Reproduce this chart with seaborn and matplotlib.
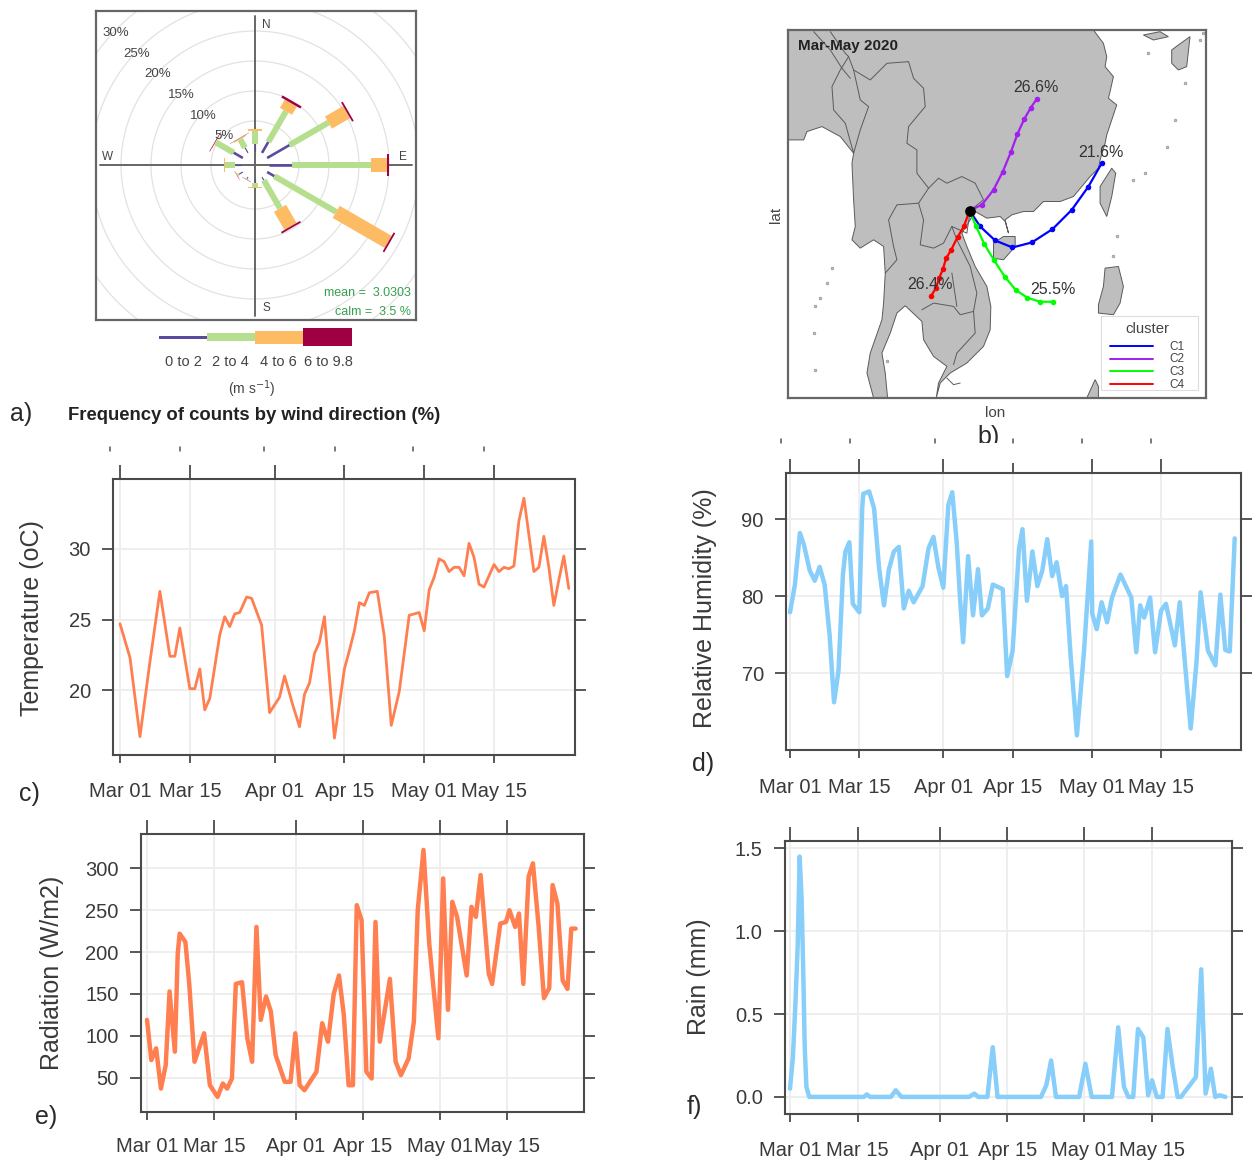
import numpy as np
import pandas as pd
import matplotlib
matplotlib.use("Agg")
import matplotlib.pyplot as plt
from matplotlib.patches import Rectangle, Polygon
import seaborn as sns

# ---------- time series ----------
temp_day = [0,2,4,6,8,10,11,12,14,15,16,17,18,20,21,22,23,24,25.4,26.4,28.4,30,32,33,34.6,36,37,38,39,40,41,43,44,45,46,47,48,49,50,51.6,53,54.4,56,58,60,61,62,63,64,65,66,67,68,69,70,71,72,73,75,76,77,78,79,80,81,83,84,85,86,87,88,89,90]
temp_val = [24.7,22.3,16.7,22,27,22.4,22.4,24.4,20.1,20.1,21.5,18.6,19.4,23.9,25.2,24.5,25.4,25.5,26.6,26.5,24.6,18.4,19.5,21,19,17.4,19.7,20.5,22.6,23.4,25.2,16.6,19,21.5,22.8,24.2,26.2,26,26.9,27,23.8,17.5,19.9,25.3,25.5,24.2,27.1,28,29.3,29.1,28.4,28.7,28.7,28.1,30.4,29.4,27.5,27.3,28.9,28.4,28.7,28.6,28.8,32,33.6,28.4,28.7,30.9,28.7,26,27.8,29.5,27.2]

rh_day = [0,1,2,2.8,4,5,6,7,8,8.9,9.8,10.7,11.2,12,12.7,14,14.6,14.8,16,17,18,19,20,21,22,23,24,25,26.8,28,29,30,31,32,32.8,33.7,34.4,35,36,37,38,38.8,40,41,43,43.9,45,46.3,47,47.9,49,50,51,52,53,53.9,55,55.8,56.7,58,59.4,60.9,61.1,62,63,64.1,65.1,66.8,69,70,70.8,71.6,72.8,73.8,75,76,77.8,78.8,79.8,81,82.2,83,84.5,86,87,88,88.9,89.9]
rh_val = [77.9,81.5,88.2,86.7,83.3,82,83.8,81.5,75,66.2,70.3,82.8,85.8,87,79,77.9,91.4,93.3,93.6,91.4,83.7,78.8,83.5,85.8,86.4,78.4,80.7,79.2,81.3,86.2,87.7,83.7,81.1,91.8,93.5,87,79.4,74,85.2,77.5,83.5,77.5,78.4,81.5,80.9,69.6,72.9,86.2,88.7,79.4,85.8,81.3,83.3,87.4,82.6,84.4,80,81.3,72.5,61.9,72.5,87.1,77.7,75.7,79.2,76.6,79.8,82.8,79.8,72.7,78.8,77.2,79.8,72.7,78.1,79,73.6,79.2,71.6,62.8,71.6,80.5,72.9,71,80.2,73,72.8,87.5]

rad_day = [0,0.9,1.9,2.9,3.9,4.7,5.8,6.4,6.8,8,8.8,9.9,11.9,13.1,14.7,15.8,16.7,17.7,18.5,19.8,20.9,21.9,22.8,23.7,24.8,25.8,26.8,28.7,29.9,30.9,31.8,32.8,35.3,36.5,37.7,38.9,40,41,42,42.9,43.7,44.7,45.7,46.8,47.6,48.5,50.6,51.8,52.9,54.5,55.6,56.4,57.6,58.8,60.7,61.7,62.7,63.6,64.6,66.6,67.6,68.5,69.5,71.2,71.9,73.6,74.8,75.5,76.7,77.5,78.4,79.5,80.4,81.6,82.7,83.8,84.5,85.5,86.6,87.6,88.4,89.3]
rad_val = [119,71,85,37,65,153,81,198,222,212,162,69,103,41,27,43,37,49,162,164,97,69,230,119,147,129,77,45,45,103,41,35,57,115,93,150,172,125,41,41,256,238,57,49,236,93,168,69,53,73,117,250,322,210,97,288,131,260,242,172,254,242,292,174,162,234,236,250,230,246,162,290,306,230,145,157,280,258,166,156,228,228]

rain_day = [0,0.6,1.15,1.6,2,2.4,2.75,3.05,3.4,4,15.3,15.9,16.6,20.9,21.9,23.1,37.1,38.2,39,40.9,42,43,52,53.1,54.1,55.1,59.9,61.2,62.5,66.7,68,69.2,70.1,71.1,72.1,73.2,74.2,75,76,77.2,78.2,79.3,80.3,81,84.1,85.2,86.1,87.2,88.1,89,90.2]
rain_val = [0.05,0.24,0.58,0.92,1.45,1.2,0.75,0.3,0.06,0,0,0.015,0,0,0.04,0,0,0.02,0,0,0.3,0,0,0.07,0.22,0,0,0.2,0,0,0.42,0.06,0,0,0.41,0.36,0.01,0.1,0,0,0.41,0.18,0,0,0.12,0.77,0.02,0.17,0,0.01,0]

date_ticks = ["2020-03-01","2020-03-15","2020-04-01","2020-04-15","2020-05-01","2020-05-15"]
date_labels = ["Mar 01","Mar 15","Apr 01","Apr 15","May 01","May 15"]

# ---------- wind rose (% frequency, cumulative per speed class) ----------
rose_dir = [0,30,60,90,120,150,180,210,240,270,300,330]
rose_c1 = [1.1,2.1,4.3,3.9,1.4,0.6,0.6,0.3,0.75,1.0,1.8,1.0]
rose_c2 = [3.3,8.0,11.8,17.0,13.3,6.0,1.4,0.4,1.0,2.7,5.2,2.6]
rose_c3 = [3.6,9.6,15.3,19.7,23.3,9.5,1.45,0.45,1.1,2.8,5.3,2.8]
rose_c4 = [3.65,10.0,15.6,20.0,23.6,9.8,1.5,0.5,1.15,2.85,5.4,2.85]
rose_colors = ["#5B4A9E","#B5DF8E","#FDBB63","#9E0142"]
rose_labels = ["0 to 2","2 to 4","4 to 6","6 to 9.8"]
ring_pct = [5,10,15,20,25,30,35,40]

# ---------- map (projected map units) ----------
land_x = [53,970,1000,1010,1005,1030,1020,1015,1040,1025,1010,1005,990,985,960,935,910,870,820,790,760,725,705,715,705,690,650,615,600,575,590,615,650,662,660,640,590,540,510,498,505,530,490,460,455,405,380,360,335,345,352,310,290,300,335,340,345,340,310,270,245,255,250,245,250,210,155,110,100,53]
land_y = [30,30,70,110,140,170,215,235,255,300,345,370,420,445,470,500,530,545,545,575,575,585,600,640,605,590,595,575,600,640,680,740,800,860,930,980,1030,1060,1090,1135,1090,1040,1010,960,905,858,880,940,1000,1060,1135,1135,1060,1000,900,850,760,680,660,685,660,620,540,430,400,350,320,335,360,360]
hainan_x = [670,700,735,735,700,670]
hainan_y = [670,650,650,680,720,715]
taiwan_x = [1025,1037,1025,1010,990,990]
taiwan_y = [445,460,530,590,550,500]
luzon_x = [1005,1045,1060,1050,1030,985,985,1000]
luzon_y = [745,740,800,850,885,880,855,800]
mindoro_x = [950,975,985,985]
mindoro_y = [1135,1080,1100,1135]
japan_x = [1205,1225,1260,1250,1225,1205]
japan_y = [90,75,50,140,150,130]
kyushu_x = [1120,1170,1195,1150]
kyushu_y = [45,35,50,60]
islet_x = [1215,1190,1245,1135,1090,1125,1040,1030,185,170,150,135,130,135,350,1300,1290]
islet_y = [300,380,190,100,480,460,650,710,745,790,835,860,940,1050,1025,40,60]
borders = [
    ([180,225,235,250,300,350,415,430,460,465,415,410,440,440,475],[35,100,110,150,180,130,125,175,205,260,320,370,390,460,505]),
    ([235,210,185,190,225,250,270,295,270,250],[110,150,200,270,310,400,330,260,240,150]),
    ([130,180,215,240],[35,90,145,175]),
    ([475,505,530,575,615,640,600],[505,475,490,470,490,540,572]),
    ([475,445,380,355,370,380,345],[505,550,555,600,680,720,760]),
    ([445,460,450,490,520,545,590,600],[550,600,675,685,670,620,640,572]),
    ([545,560,600,620,610],[620,660,740,820,875]),
    ([455,490,550,570,610,615,560,550],[870,850,860,885,875,940,1000,1035]),
    ([545,560],[760,860]),
    ([530,550,570],[1075,1095,1090]),
]

traj_x = {"C1":[598,630,675,727,785,847,905,955,995],
          "C2":[598,635,670,698,722,742,762,782,800],
          "C3":[598,617,642,672,704,737,772,810,850],
          "C4":[598,581,562,543,528,518,507,497,482]}
traj_y = {"C1":[572,620,662,683,668,628,570,500,430],
          "C2":[572,555,510,455,397,342,298,263,237],
          "C3":[572,618,672,722,771,811,834,846,846],
          "C4":[572,620,652,690,715,748,775,805,830]}
traj_colors = {"C1":"#0000FF","C2":"#A020F0","C3":"#00FF00","C4":"#FF0000"}
traj_pct = ["21.6%","26.6%","25.5%","26.4%"]

# ---------- figure ----------
sns.set_theme(style="white")
plt.rcParams["font.family"] = ["Liberation Sans","DejaVu Sans"]
W, H = 1260, 1163
fig = plt.figure(figsize=(W/100, H/100), dpi=100, facecolor="white")
PX = 0.72
TXT = "#3a3a3a"
FRAME = "#4a4a4a"

def axbox(l, t, r, b, **kw):
    return fig.add_axes([l/W, 1-b/H, (r-l)/W, (b-t)/H], **kw)

base = pd.Timestamp("2020-03-01")

def series(box, tick_px, y_lim, y_ticks, y_fmt, days, vals, color, lw, ylabel, ylab_x, ylab_y, xlab_pad=12):
    l, t, r, b = box
    ax = axbox(l, t, r, b)
    df = pd.DataFrame({"date": [base + pd.Timedelta(days=float(d)) for d in days], "value": vals})
    sns.lineplot(data=df, x="date", y="value", color=color, lw=lw, ax=ax, errorbar=None, sort=False)
    x0, x1 = tick_px
    ppd = (x1 - x0) / 75.0
    ax.set_xlim(base + pd.Timedelta(days=(l - x0)/ppd), base + pd.Timedelta(days=(r - x0)/ppd))
    ax.set_ylim(*y_lim)
    ticks = [pd.Timestamp(d) for d in date_ticks]
    ax.set_xticks(ticks)
    ax.set_xticklabels(date_labels)
    ax.set_yticks(y_ticks)
    ax.set_yticklabels([y_fmt.format(v) for v in y_ticks])
    ax.grid(True, color="#eeeeee", lw=1.4)
    ax.set_axisbelow(True)
    ax.tick_params(axis="x", which="both", bottom=True, top=True, length=6, width=1.3, color=FRAME,
                   labelsize=14.5, labelcolor=TXT, pad=xlab_pad)
    ax.tick_params(axis="y", which="both", left=True, right=True, length=8, width=1.3, color=FRAME,
                   labelsize=14.5, labelcolor=TXT, pad=8)
    for tk in ax.xaxis.get_major_ticks():
        tk.tick2line.set_markersize(10)
    for s in ax.spines.values():
        s.set_color(FRAME); s.set_linewidth(1.5); s.set_visible(True)
    ax.set_xlabel("")
    ax.set_ylabel(ylabel, fontsize=18, color=TXT, va="center")
    ax.yaxis.set_label_coords((ylab_x - l)/(r - l), (b - ylab_y)/(b - t))
    return ax

series((113,479,575,755),(120,494),(15.4,34.96),[20,25,30],"{:d}",temp_day,temp_val,"#FF7F50",2.0,"Temperature (oC)",32,618,xlab_pad=13.5)
series((786,473,1241,750),(790,1161),(60,96),[70,80,90],"{:d}",rh_day,rh_val,"#87CEFA",3.2,"Relative Humidity (%)",705,608,xlab_pad=14)
series((141,834,584,1112),(147,507),(9,341),[50,100,150,200,250,300],"{:d}",rad_day,rad_val,"#FF7F50",3.2,"Radiation (W/m2)",52,973)
series((785,841,1232,1114),(790,1152),(-0.103,1.544),[0.0,0.5,1.0,1.5],"{:.1f}",rain_day,rain_val,"#87CEFA",3.2,"Rain (mm)",699,977,xlab_pad=13.5)

# ---------- wind rose ----------
rx = axbox(96,11,416,320)
scale = 6.0          # px per percent
offset = 14/scale
rx.set_xlim(-159/scale, 161/scale)
rx.set_ylim(-155/scale, 154/scale)
rx.set_xticks([]); rx.set_yticks([])
th = np.linspace(0, 2*np.pi, 361)
for p in ring_pct:
    rx.plot((p+offset)*np.sin(th), (p+offset)*np.cos(th), color="#e2e2e2", lw=0.9)
rx.plot([-155/scale,157/scale],[0,0],color="#666666",lw=1.4)
rx.plot([0,0],[-151/scale,149/scale],color="#666666",lw=1.4)
classes = [rose_c1, rose_c2, rose_c3, rose_c4]
widths = [2.6*PX, 6*PX, 14*PX, 22*PX]
for i, d in enumerate(rose_dir):
    sa, ca = np.sin(np.radians(d)), np.cos(np.radians(d))
    prev = 0.0
    for k, c in enumerate(classes):
        v = c[i]
        w = widths[k] if v >= 1.2 else widths[k]*0.45
        rx.plot([(prev+offset)*sa,(v+offset)*sa],[(prev+offset)*ca,(v+offset)*ca],
                color=rose_colors[k], lw=w, solid_capstyle="butt")
        prev = v
for s in rx.spines.values():
    s.set_color("#666666"); s.set_linewidth(1.6); s.set_visible(True)

# ---------- map ----------
mx = axbox(788,30,1206,398)
mx.set_xlim(53,1308); mx.set_ylim(1135,30)
mx.set_xticks([]); mx.set_yticks([])
LAND = "#BEBEBE"; EDGE = "#5a5a5a"
for px_, py_ in [(land_x,land_y),(hainan_x,hainan_y),(taiwan_x,taiwan_y),(luzon_x,luzon_y),(mindoro_x,mindoro_y),(japan_x,japan_y),(kyushu_x,kyushu_y)]:
    mx.add_patch(Polygon(np.column_stack([px_,py_]), closed=True, facecolor=LAND, edgecolor=EDGE, lw=0.7))
mx.scatter(islet_x, islet_y, s=4, color=LAND, edgecolor="#888888", lw=0.4, zorder=2)
for bx, by in borders:
    mx.plot(bx, by, color=EDGE, lw=0.7)
rows = []
for c in traj_x:
    for i,(a,b) in enumerate(zip(traj_x[c],traj_y[c])):
        rows.append({"cluster":c,"x":a,"y":b,"step":i})
tdf = pd.DataFrame(rows)
sns.lineplot(data=tdf, x="x", y="y", hue="cluster", palette=traj_colors, sort=False, lw=1.6, marker="o",
             markersize=4, markeredgewidth=0, legend=False, ax=mx, errorbar=None, zorder=4)
mx.scatter([traj_x["C1"][0]],[traj_y["C1"][0]], s=45, color="black", zorder=5)
mx.set_xlim(53,1308); mx.set_ylim(1135,30)
for (tx,ty),s in zip([(992,397),(797,203),(847,810),(480,795)],traj_pct):
    mx.text(tx,ty,s,ha="center",va="center",fontsize=11.5,color="#333333",zorder=6)
mx.text(83,78,"Mar-May 2020",ha="left",va="center",fontsize=11,fontweight="bold",color="#222222",zorder=6)
mx.add_patch(Rectangle((992,888),293,224,facecolor="white",edgecolor="#dddddd",lw=0.8,zorder=6))
mx.text(1132,928,"cluster",ha="center",va="center",fontsize=10.7,color="#444444",zorder=7)
for c,yy in zip(traj_x,[980,1017,1055,1093]):
    mx.plot([1020,1150],[yy,yy],color=traj_colors[c],lw=1.4,zorder=7)
    mx.text(1222,yy+2,c,ha="center",va="center",fontsize=8.5,color="#444444",zorder=7)
for s in mx.spines.values():
    s.set_color("#666666"); s.set_linewidth(1.6); s.set_visible(True)
mx.set_xlabel(""); mx.set_ylabel("")

# ---------- overlay in figure pixels: annotations ----------
ov = fig.add_axes([0,0,1,1], facecolor="none")
ov.set_xlim(0,W); ov.set_ylim(H,0); ov.axis("off")

for (tx,ty),s in zip([(116,33),(137,54),(158,74),(181,95),(203,116),(224,136)],["30%","25%","20%","15%","10%","5%"]):
    ov.text(tx,ty,s,ha="center",va="center",fontsize=9.5,color="#444444")
for (tx,ty),s in zip([(266,25),(403,157),(266,308),(108,157)],["N","E","S","W"]):
    ov.text(tx,ty,s,ha="center",va="center",fontsize=8.5,color="#444444")
ov.text(411,293,"mean =  3.0303",ha="right",va="center",fontsize=9,color="#35a050")
ov.text(411,312,"calm =  3.5 %",ha="right",va="center",fontsize=9,color="#35a050")
key_x = [159,207,255,303,352]
key_h = [3,8,13,18]
for k in range(4):
    ov.add_patch(Rectangle((key_x[k],337-key_h[k]/2),key_x[k+1]-key_x[k],key_h[k],facecolor=rose_colors[k],edgecolor="none"))
for tx,s in zip([183,230,278,328],rose_labels):
    ov.text(tx,362,s,ha="center",va="center",fontsize=10.5,color="#444444")
ov.text(252,389,r"(m s$^{-1}$)",ha="center",va="center",fontsize=10,color="#444444",math_fontfamily="dejavusans")
ov.text(68,415,"Frequency of counts by wind direction (%)",ha="left",va="center",fontsize=13.3,fontweight="bold",color="#222222")
ov.text(995,413,"lon",ha="center",va="center",fontsize=11,color="#444444")
ov.text(776,215,"lat",ha="center",va="center",fontsize=11,rotation=90,color="#444444")
for (tx,ty),s in zip([(21,414),(29,794),(703,764),(46,1117),(694,1107)],["a)","c)","d)","e)","f)"]):
    ov.text(tx,ty,s,ha="center",va="center",fontsize=18,color="#2a2a2a")
ov.text(989,437,"b)",ha="center",va="center",fontsize=18,color="#2a2a2a")
ov.add_patch(Rectangle((965,443),50,20,facecolor="white",edgecolor="none",zorder=3))
for tx in [110,180,264,335,413,484]:
    ov.plot([tx,tx],[447,451],color="#555555",lw=1.1,zorder=4)
for tx in [781,850,935,1013,1082,1151]:
    ov.plot([tx,tx],[439,443],color="#555555",lw=1.1,zorder=4)

fig.savefig("out.png", dpi=100, facecolor="white")
